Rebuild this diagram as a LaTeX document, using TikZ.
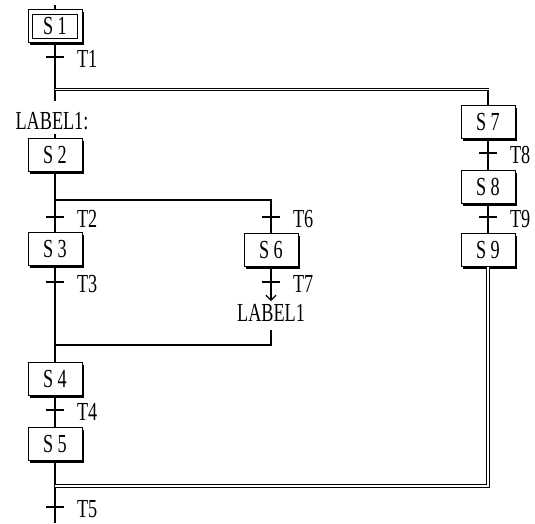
\documentclass[tikz,border=0pt]{standalone}
\usepackage{fontspec}
\newfontfamily\grf[FakeStretch=0.70]{Liberation Serif}
\usetikzlibrary{arrows.meta,shadows}
\begin{document}
\begin{tikzpicture}[x=1pt,y=-1pt,
  every node/.style={font=\grf\fontsize{26}{26}\selectfont, inner sep=0pt, outer sep=0pt},
  stepbox/.style={draw, line width=1pt, fill=white, minimum width=54pt, minimum height=33pt,
    drop shadow={shadow xshift=2pt, shadow yshift=-2pt, fill=black, opacity=1}},
  innerbox/.style={draw, line width=1pt, minimum width=45pt, minimum height=24pt},
  ln/.style={line width=1.2pt},
  dbl/.style={double=white, double distance=1.4pt, line width=1pt},
  tick/.style={line width=1.2pt},
  tlab/.style={anchor=west}]
\useasboundingbox (0,0) rectangle (535,523);
% steps
\node[stepbox] (s1) at (55,26) {};
\node[innerbox] (s1in) at (s1) {S\,1};
\node[stepbox] (s2) at (55,155) {S\,2};
\node[stepbox] (s3) at (55,249) {S\,3};
\node[stepbox] (s6) at (271,250) {S\,6};
\node[stepbox] (s4) at (55,379) {S\,4};
\node[stepbox] (s5) at (55,444) {S\,5};
\node[stepbox] (s7) at (488,122) {S\,7};
\node[stepbox] (s8) at (488,187) {S\,8};
\node[stepbox] (s9) at (488,250) {S\,9};
% labels
\node (lab1) at (52,121) {LABEL1:};
\node (lab2) at (271,313) {LABEL1};
% coordinates
\coordinate (top) at (55,5);
\coordinate (t1) at (55,57);
\coordinate (j1) at (55,89.5);
\coordinate (j1r) at (488.5,89.5);
\coordinate (j1v) at (488,89.5);
\coordinate (c1) at (55,101);
\coordinate (c2) at (55,134);
\coordinate (b1) at (55,200);
\coordinate (b1r) at (271,200);
\coordinate (t2) at (55,217);
\coordinate (t6) at (271,217);
\coordinate (t3) at (55,282);
\coordinate (t7) at (271,282);
\coordinate (a7) at (271,301);
\coordinate (c3) at (271,330);
\coordinate (m1r) at (271,345);
\coordinate (m1) at (55,345);
\coordinate (t4) at (55,410);
\coordinate (j2) at (55,486);
\coordinate (j2r) at (488,486);
\coordinate (t5) at (55,507);
\coordinate (bot) at (55,523);
\coordinate (t8) at (488,153);
\coordinate (t9) at (488,217);
% connectors
\draw[ln] (top) -- (s1.north);
\draw[ln] (s1.south) -- (c1);
\draw[dbl] (j1) -- (j1r);
\draw[ln] (j1v) -- (s7.north);
\draw[ln] (c2) -- (s2.north);
\draw[ln] (s2.south) -- (s3.north);
\draw[ln] (b1) -- (b1r) -- (s6.north);
\draw[ln] (s3.south) -- (s4.north);
\draw[ln,-{Straight Barb[length=5pt,width=10pt]}] (s6.south) -- (a7);
\draw[ln] (c3) -- (m1r) -- (m1);
\draw[ln] (s4.south) -- (s5.north);
\draw[ln] (s5.south) -- (bot);
\draw[ln] (s7.south) -- (s8.north);
\draw[ln] (s8.south) -- (s9.north);
\draw[dbl] (s9.south) -- (j2r) -- (j2);
% transitions
\foreach \t/\l in {t1/T1,t2/T2,t3/T3,t4/T4,t5/T5,t6/T6,t7/T7,t8/T8,t9/T9}{
  \draw[tick] ([xshift=-9pt]\t) -- ([xshift=9pt]\t);
  \node[tlab] (l\t) at ([xshift=22pt,yshift=-2pt]\t) {\l};
}
\end{tikzpicture}
\end{document}
